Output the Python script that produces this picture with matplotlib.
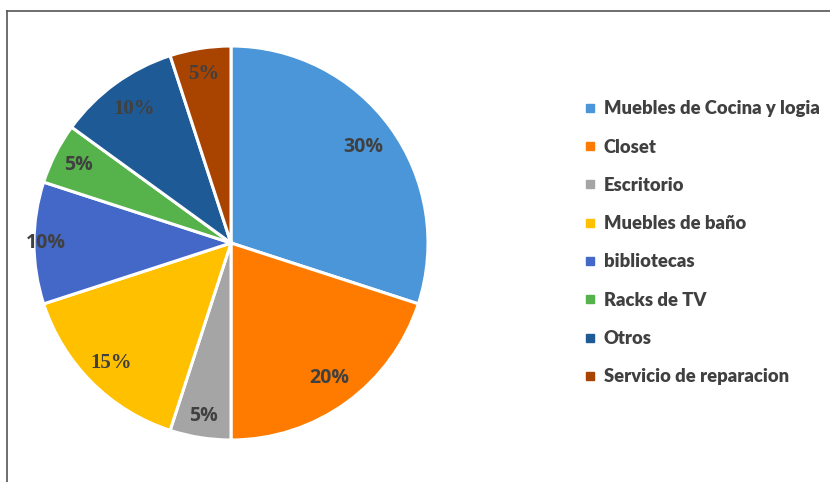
import matplotlib
matplotlib.use("Agg")
import matplotlib.pyplot as plt
from matplotlib.lines import Line2D
import numpy as np

categories = ["Muebles de Cocina y logia", "Closet", "Escritorio", "Muebles de baño",
              "bibliotecas", "Racks de TV", "Otros", "Servicio de reparacion"]
values = [30, 20, 5, 15, 10, 5, 10, 5]
colors = ["#4A96D8", "#FF7B00", "#A5A5A5", "#FFC000", "#4468C8", "#56B24A", "#1E5B96", "#A84300"]
label_font = ["sans", "sans", "sans", "serif", "sans", "sans", "serif", "serif"]
label_dist = [0.83, 0.85, 0.89, 0.86, 0.94, 0.87, 0.84, 0.87]

W, H = 830, 482
fig = plt.figure(figsize=(W / 100, H / 100), dpi=100)

cx, cy, r = 231, 243, 197
ax = fig.add_axes([(cx - r) / W, (H - cy - r) / H, 2 * r / W, 2 * r / H])
wedges, _ = ax.pie(values, colors=colors, startangle=90, counterclock=False,
                   wedgeprops=dict(edgecolor="white", linewidth=2.2))
ax.set_xlim(-1, 1)
ax.set_ylim(-1, 1)
ax.set_aspect("equal")
ax.axis("off")

total = sum(values)
for w, v, f, d in zip(wedges, values, label_font, label_dist):
    ang = np.deg2rad((w.theta1 + w.theta2) / 2)
    if f == "serif":
        fam, fs = ["Liberation Serif", "DejaVu Serif"], 15
    else:
        fam, fs = ["Open Sans", "DejaVu Sans"], 14
    ax.text(d * np.cos(ang), d * np.sin(ang), f"{round(100 * v / total)}%",
            ha="center", va="center", fontsize=fs, fontweight="bold",
            color="#404040", family=fam)

handles = [Line2D([], [], marker="s", linestyle="none", markersize=5.5,
                  markerfacecolor=c, markeredgecolor=c) for c in colors]
leg = fig.legend(handles, categories, loc="upper left",
                 bbox_to_anchor=(577 / W, 1 - 93 / H), frameon=False,
                 handlelength=0.6, handletextpad=0.45, labelspacing=1.16,
                 borderaxespad=0, borderpad=0.4,
                 prop=dict(family=["Lato", "DejaVu Sans"], weight="heavy", size=13.2))
for t in leg.get_texts():
    t.set_color("#404040")

# frame lines (partially visible border)
fig.add_artist(Line2D([7 / W, 7 / W], [0, 1 - 11 / H], transform=fig.transFigure,
                      color="#555555", linewidth=1.2))
fig.add_artist(Line2D([7 / W, 1], [1 - 11 / H, 1 - 11 / H], transform=fig.transFigure,
                      color="#555555", linewidth=1.2))

fig.savefig("out.png", dpi=100)
